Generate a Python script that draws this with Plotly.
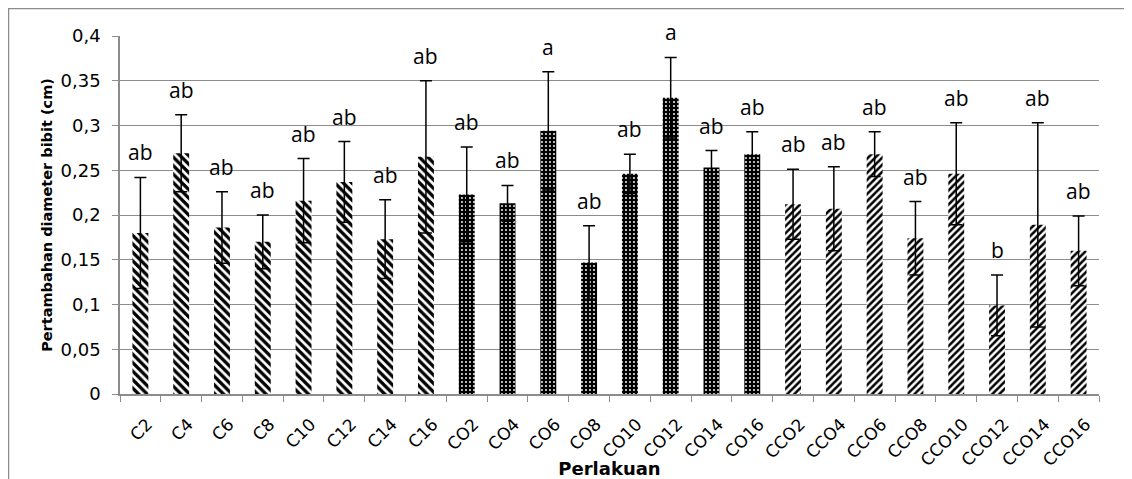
import plotly.graph_objects as go

categories = ["C2", "C4", "C6", "C8", "C10", "C12", "C14", "C16",
              "CO2", "CO4", "CO6", "CO8", "CO10", "CO12", "CO14", "CO16",
              "CCO2", "CCO4", "CCO6", "CCO8", "CCO10", "CCO12", "CCO14", "CCO16"]
means = [0.180, 0.269, 0.186, 0.170, 0.216, 0.237, 0.173, 0.265,
         0.223, 0.213, 0.294, 0.147, 0.246, 0.331, 0.253, 0.268,
         0.212, 0.207, 0.268, 0.174, 0.246, 0.099, 0.189, 0.160]
errors = [0.062, 0.043, 0.040, 0.030, 0.047, 0.045, 0.044, 0.085,
          0.053, 0.020, 0.066, 0.041, 0.022, 0.045, 0.019, 0.025,
          0.039, 0.047, 0.025, 0.041, 0.057, 0.034, 0.114, 0.039]
letters = ["ab", "ab", "ab", "ab", "ab", "ab", "ab", "ab",
           "ab", "ab", "a", "ab", "ab", "a", "ab", "ab",
           "ab", "ab", "ab", "ab", "ab", "b", "ab", "ab"]
ytick_vals = [0, 0.05, 0.1, 0.15, 0.2, 0.25, 0.3, 0.35, 0.4]
ytick_text = ["0", "0,05", "0,1", "0,15", "0,2", "0,25", "0,3", "0,35", "0,4"]

def group(c):
    if c.startswith("CCO"):
        return "CCO"
    if c.startswith("CO"):
        return "CO"
    return "C"

style = {
    "C": dict(shape="\\", fg="black", bg="white", size=6, sol=0.55),
    "CO": dict(shape=".", fg="white", bg="black", size=4, sol=0.18),
    "CCO": dict(shape="/", fg="black", bg="white", size=5, sol=0.5),
}

fig = go.Figure()
for g in ["C", "CO", "CCO"]:
    idx = [i for i, c in enumerate(categories) if group(c) == g]
    s = style[g]
    fig.add_trace(go.Bar(
        x=[categories[i] for i in idx],
        y=[means[i] for i in idx],
        name=g,
        marker=dict(
            color=s["bg"],
            line=dict(width=0),
            pattern=dict(shape=s["shape"], fgcolor=s["fg"], bgcolor=s["bg"],
                         size=s["size"], solidity=s["sol"], fillmode="replace"),
        ),
        error_y=dict(type="data", array=[errors[i] for i in idx], symmetric=True,
                     color="black", thickness=1.5, width=6),
        showlegend=False,
    ))

for c, m, e, t in zip(categories, means, errors, letters):
    fig.add_annotation(x=c, y=m + e, text=t, showarrow=False,
                       yanchor="bottom", yshift=9,
                       font=dict(family="Open Sans", size=21, color="black"))

fig.add_shape(type="rect", xref="paper", yref="paper",
              x0=-0.1139, y0=-0.3, x1=1.06, y1=1.0768,
              line=dict(color="#8c8c8c", width=1.5), layer="above")

fig.update_layout(
    width=1124, height=471,
    margin=dict(l=112, r=33, t=28, b=85),
    paper_bgcolor="white", plot_bgcolor="white",
    barmode="overlay",
    bargap=0.61,
    font=dict(family="DejaVu Sans", color="black"),
)
fig.update_xaxes(
    type="category", categoryorder="array", categoryarray=categories,
    tickangle=-45, tickfont=dict(size=17, family="DejaVu Sans"),
    ticks="outside", tickson="boundaries", ticklen=6, tickcolor="#8c8c8c",
    showline=True, linecolor="#8c8c8c", linewidth=1.5,
    showgrid=False, automargin=False, ticklabelstandoff=12, ticklabelshift=7,
    title=dict(text="<b>Perlakuan</b>", font=dict(size=18, family="DejaVu Sans"), standoff=6),
)
fig.update_yaxes(
    range=[0, 0.4], tickvals=ytick_vals, ticktext=ytick_text,
    tickfont=dict(size=18, family="DejaVu Sans"),
    ticks="outside", ticklen=6, tickcolor="#8c8c8c",
    showline=True, linecolor="#8c8c8c", linewidth=1.5,
    showgrid=True, gridcolor="#8c8c8c", gridwidth=1,
    zeroline=False, automargin=False, ticklabelstandoff=8,
    title=dict(text="<b>Pertambahan diameter bibit (cm)</b>", font=dict(size=14.5, family="DejaVu Sans"), standoff=4),
)

fig.write_html("out.html")
